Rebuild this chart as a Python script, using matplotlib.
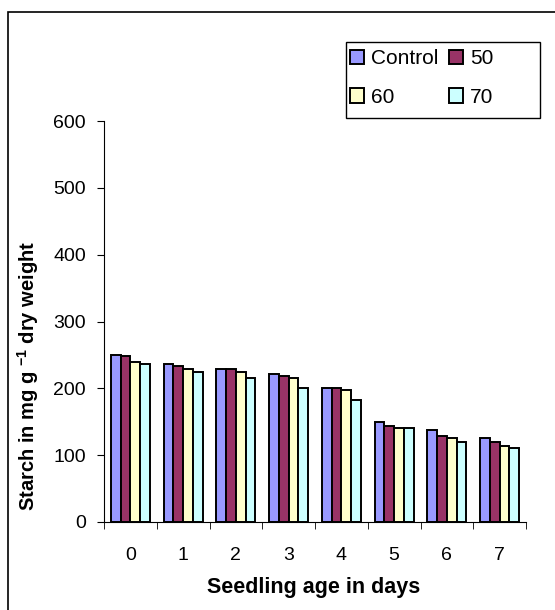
import matplotlib.pyplot as plt
import numpy as np
from matplotlib.patches import Rectangle

plt.rcParams['font.family'] = ['Liberation Sans', 'DejaVu Sans']

# Data
days = ['0', '1', '2', '3', '4', '5', '6', '7']
series = ['Control', '50', '60', '70']
control = [250, 236, 229, 221, 201, 150, 138, 126]
c50 = [248, 233, 229, 218, 201, 144, 129, 120]
c60 = [239, 229, 224, 215, 198, 141, 126, 114]
c70 = [236, 224, 215, 200, 183, 141, 120, 111]
colors = ['#9999FF', '#993366', '#FFFFCC', '#CCFFFF']

W, H = 555, 610
fig = plt.figure(figsize=(W / 100, H / 100), dpi=100)
ax = fig.add_axes([104 / W, 1 - 522 / H, (526 - 104) / W, (522 - 121) / H])

x = np.arange(len(days))
width = 0.185
bars = []
for i, vals in enumerate([control, c50, c60, c70]):
    b = ax.bar(x + (i - 1.5) * width, vals, width, color=colors[i],
               edgecolor='black', linewidth=1.4, label=series[i], zorder=3)
    bars.append(b)

ax.set_xlim(-0.5, len(days) - 0.5)
ax.set_ylim(0, 600)
ax.set_yticks(range(0, 601, 100))
ax.set_xticks(x)
ax.set_xticklabels(days)
ax.set_xticks(np.arange(-0.5, len(days)), minor=True)
ax.tick_params(axis='x', which='major', length=0, pad=18, labelsize=14)
ax.tick_params(axis='x', which='minor', length=5, direction='out')
ax.tick_params(axis='y', length=5, direction='out', pad=8, labelsize=14)

for s in ['top', 'right']:
    ax.spines[s].set_visible(False)

ax.set_ylabel('Starch in mg g $^{\\mathregular{-1}}$ dry weight', fontsize=14.5,
              fontweight='bold')
ax.yaxis.set_label_coords((28 - 104) / (526 - 104), (522 - 376) / (522 - 121))
ax.set_xlabel('Seedling age in days', fontsize=15.5, fontweight='bold')
ax.xaxis.set_label_coords((314 - 104) / (526 - 104), -(588 - 522) / (522 - 121))
ax.xaxis.label.set_va('center')
ax.yaxis.label.set_va('center')

# legend filled row by row: Control, 50 / 60, 70
order = [0, 2, 1, 3]
leg = ax.legend([bars[k] for k in order], [series[k] for k in order], ncol=2,
                loc='upper left', bbox_to_anchor=(350 / W, 1 - 49 / H),
                bbox_transform=fig.transFigure, frameon=False, fontsize=15,
                handlelength=0.67, handleheight=0.67, handletextpad=0.34,
                columnspacing=0.5, borderpad=0, borderaxespad=0, labelspacing=0.95)

# legend box
fig.patches.append(Rectangle((346 / W, 1 - 118 / H), 194 / W, 76 / H,
                             transform=fig.transFigure, fill=False,
                             edgecolor='black', linewidth=1.0))

# outer frame
fig.patches.append(Rectangle((8 / W, -0.1), 1.2, 1 - 12 / H + 0.1,
                             transform=fig.transFigure, fill=False,
                             edgecolor='black', linewidth=1.2))

fig.savefig('out.png', dpi=100)
